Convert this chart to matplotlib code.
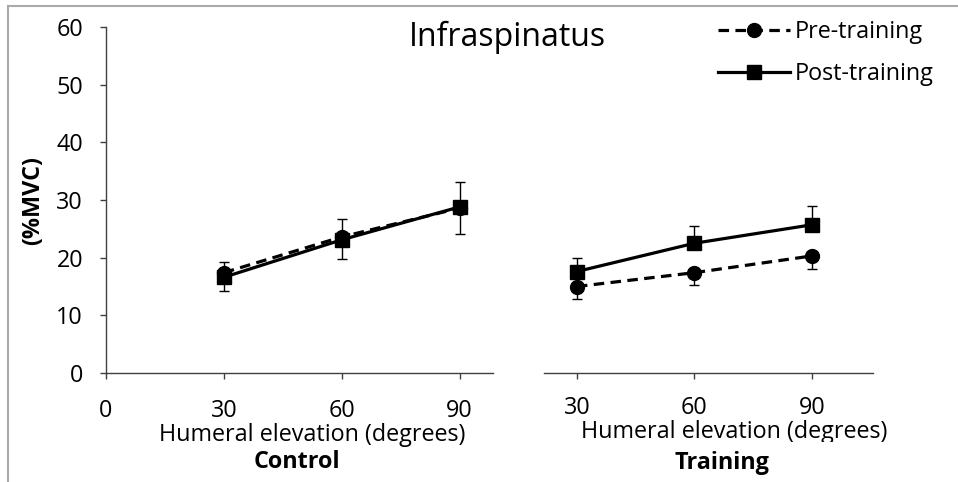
import matplotlib
matplotlib.use("Agg")
import matplotlib.pyplot as plt
from matplotlib.lines import Line2D
from matplotlib.transforms import Bbox, TransformedBbox

plt.rcParams['font.family'] = ['Open Sans', 'DejaVu Sans']

# humeral elevation angles (degrees)
angles = [30, 60, 90]

# control group, %MVC
control_pre = [17.4, 23.6, 28.6]
control_pre_err = [3.2, 3.8, 4.5]      # drawn downward
control_post = [16.6, 23.1, 28.8]
control_post_err = [2.6, 3.6, 4.4]     # drawn upward

# training group, %MVC
training_pre = [15.0, 17.4, 20.3]
training_pre_err = [2.1, 2.1, 2.3]
training_post = [17.6, 22.5, 25.7]
training_post_err = [2.3, 3.0, 3.3]

y_ticks = [0, 10, 20, 30, 40, 50, 60]
control_xticks = [0, 30, 60, 90]
training_xticks = [30, 60, 90]

W, H = 958, 482
fig = plt.figure(figsize=(W / 100, H / 100), dpi=100)


def fx(px):
    return px / W


def fy(py):
    return 1 - py / H


ax_c = fig.add_axes([fx(106), fy(373), fx(493) - fx(106), fy(27) - fy(373)])
ax_t = fig.add_axes([fx(544), fy(373), fx(873) - fx(544), fy(27) - fy(373)])

FS = 16.8
lw = 2.3
dash = (0, (3.3, 2.0))
spine_col = '#404040'


def draw(ax, pre, pre_err, post, post_err):
    zeros = [0] * len(angles)
    ax.errorbar(angles, pre, yerr=[pre_err, zeros], color='black', lw=lw,
                linestyle=dash, marker='o', markersize=10, capsize=3.5,
                elinewidth=1.0, capthick=1.0, zorder=3)
    ax.errorbar(angles, post, yerr=[zeros, post_err], color='black', lw=lw,
                linestyle='-', marker='s', markersize=9.5, capsize=3.5,
                elinewidth=1.0, capthick=1.0, zorder=4)
    ax.set_ylim(0, 60)
    for s in ['top', 'right']:
        ax.spines[s].set_visible(False)
    for s in ['left', 'bottom']:
        ax.spines[s].set_color(spine_col)
        ax.spines[s].set_linewidth(1.0)
    ax.tick_params(direction='out', length=4.5, width=1.0, color=spine_col,
                   labelsize=FS, colors='black')


draw(ax_c, control_pre, control_pre_err, control_post, control_post_err)
ax_c.set_xlim(0, 98.5)
ax_c.set_xticks(control_xticks)
ax_c.set_yticks(y_ticks)
ax_c.tick_params(axis='y', pad=12)
ax_c.tick_params(axis='x', pad=14.5)

draw(ax_t, training_pre, training_pre_err, training_post, training_post_err)
ax_t.set_xlim(21.6, 105.6)
ax_t.set_xticks(training_xticks)
ax_t.spines['left'].set_visible(False)
ax_t.set_yticks([])
ax_t.tick_params(axis='x', pad=12)

# axis texts
fig.text(fx(33), fy(200), '(%MVC)', rotation=90, ha='center', va='center',
         fontsize=FS, fontweight='bold')
fig.text(fx(312), fy(435), 'Humeral elevation (degrees)', ha='center',
         va='center', fontsize=FS)
fig.text(fx(297), fy(462), 'Control', ha='center', va='center',
         fontsize=FS, fontweight='bold')
t_lab = fig.text(fx(734), fy(432), 'Humeral elevation (degrees)', ha='center',
                 va='center', fontsize=FS)
t_lab.set_clip_box(TransformedBbox(Bbox.from_extents(0, fy(442), 1, 1),
                                   fig.transFigure))
t_lab.set_clip_on(True)
fig.text(fx(722), fy(463), 'Training', ha='center', va='center',
         fontsize=FS, fontweight='bold')

fig.text(fx(507), fy(37), 'Infraspinatus', ha='center', va='center',
         fontsize=23)

handles = [
    Line2D([], [], color='black', lw=lw, linestyle=dash, marker='o',
           markersize=10),
    Line2D([], [], color='black', lw=lw, linestyle='-', marker='s',
           markersize=9.5),
]
fig.legend(handles, ['Pre-training', 'Post-training'], loc='center left',
           bbox_to_anchor=(fx(718), fy(53)), frameon=False, fontsize=FS,
           handlelength=3.1, handletextpad=0.2, labelspacing=0.76,
           borderaxespad=0, borderpad=0)

# thin grey frame along the top and left edge
fig.add_artist(Line2D([fx(8), fx(8)], [0, fy(6)], transform=fig.transFigure,
                      color='#aaaaaa', lw=1.5))
fig.add_artist(Line2D([fx(8), 1], [fy(6), fy(6)], transform=fig.transFigure,
                      color='#aaaaaa', lw=1.5))

fig.savefig('out.png', dpi=100)
